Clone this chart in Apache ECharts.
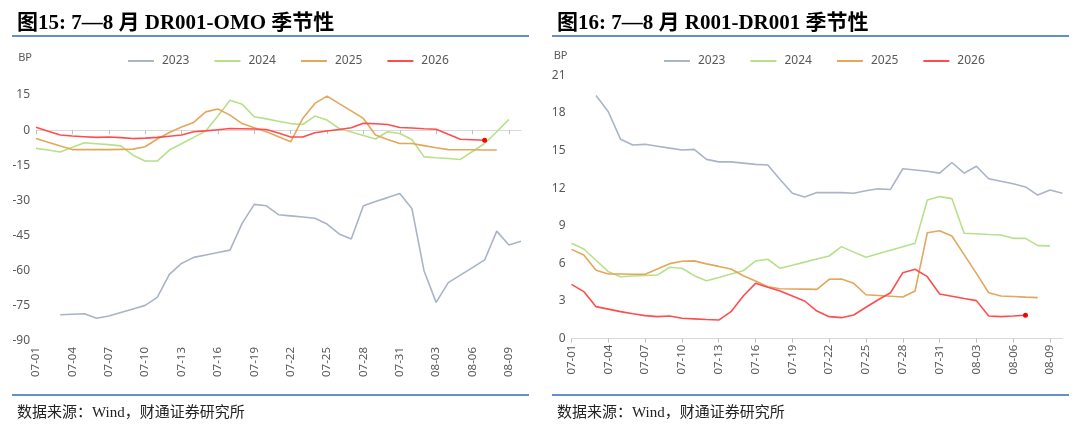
<!DOCTYPE html>
<html>
<head>
<meta charset="utf-8">
<script src="https://cdn.jsdelivr.net/npm/echarts@6/dist/echarts.min.js"></script>
<style>
  html, body { margin: 0; padding: 0; background: #fff; }
  #chart { width: 1080px; height: 430px; }
</style>
</head>
<body>
<div id="chart"></div>
<script>
// 日期：07-01 ~ 08-10
const dates = [
  '07-01','07-02','07-03','07-04','07-05','07-06','07-07','07-08','07-09','07-10',
  '07-11','07-12','07-13','07-14','07-15','07-16','07-17','07-18','07-19','07-20',
  '07-21','07-22','07-23','07-24','07-25','07-26','07-27','07-28','07-29','07-30',
  '07-31','08-01','08-02','08-03','08-04','08-05','08-06','08-07','08-08','08-09','08-10'
];
const years = ['2023', '2024', '2025', '2026'];
const colors = ['#A9B4C6', '#B7E08B', '#E3A75B', '#FF4D4D'];

// 图15 DR001-OMO (BP)
const omo2023 = [null, null, -78.8, -78.6, -78.4, -80.3, -79.3, -77.8, -76.3, -74.8,
  -71.4, -61.6, -56.9, -54.3, -53.3, -52.2, -51.2, -39.8, -31.7, -32.3,
  -36.1, -36.6, -37.1, -37.6, -40.1, -44.3, -46.5, -32.3, -30.5, -28.8,
  -27.0, -33.4, -60.0, -73.5, -65.1, -61.9, -58.7, -55.4, -43.1, -49.0, -47.4];
const omo2024 = [-7.8, -8.5, -9.3, -7.3, -5.4, -5.8, -6.2, -6.7, -10.7, -13.2,
  -13.2, -8.5, -5.8, -3.1, -0.4, 6.0, 12.8, 11.1, 5.7, 4.8,
  3.8, 2.8, 2.4, 6.0, 4.3, 0.7, -0.8, -2.3, -3.8, -0.7,
  -1.4, -4.0, -11.4, -11.8, -12.1, -12.5, -9.1, -5.7, -0.7, 4.6];
const omo2025 = [-3.6, -5.2, -6.8, -8.3, -8.3, -8.3, -8.3, -8.2, -8.1, -7.1,
  -3.8, -1.0, 1.3, 3.3, 7.8, 9.0, 6.4, 2.8, 1.0, -0.7,
  -2.8, -5.0, 5.0, 11.4, 14.5, 11.3, 8.2, 5.0, -2.1, -4.0,
  -5.7, -5.7, -6.6, -7.5, -8.3, -8.4, -8.4, -8.5, -8.5];
const omo2026 = [1.2, -0.5, -2.1, -2.5, -2.8, -3.1, -2.9, -3.2, -3.6, -3.4,
  -3.1, -2.6, -2.1, -0.7, -0.3, 0.2, 0.7, 0.6, 0.5, 0.3,
  -1.2, -2.9, -2.9, -1.1, -0.4, 0.3, 1.0, 2.9, 2.7, 2.4,
  1.1, 0.9, 0.6, 0.4, -1.8, -3.9, -4.1, -4.3];

// 图16 R001-DR001 (BP)
const spr2023 = [null, null, 19.4, 18.1, 15.9, 15.45, 15.5, 15.35, 15.2, 15.05,
  15.1, 14.3, 14.1, 14.1, 14.0, 13.9, 13.85, 12.7, 11.6, 11.3,
  11.65, 11.65, 11.65, 11.6, 11.8, 11.95, 11.9, 13.55, 13.45, 13.35,
  13.2, 14.05, 13.2, 13.75, 12.75, 12.55, 12.35, 12.1, 11.45, 11.85, 11.6];
const spr2024 = [7.6, 7.15, 6.25, 5.34, 4.94, 5.0, 5.03, 5.07, 5.69, 5.61,
  5.02, 4.62, 4.88, 5.15, 5.42, 6.19, 6.33, 5.61, 5.85, 6.1,
  6.35, 6.59, 7.34, 6.9, 6.49, 6.77, 7.05, 7.33, 7.6, 11.06,
  11.33, 11.17, 8.4, 8.36, 8.31, 8.27, 8.0, 8.0, 7.42, 7.4];
const spr2025 = [7.12, 6.67, 5.45, 5.16, 5.15, 5.14, 5.13, 5.55, 5.98, 6.17,
  6.2, 5.96, 5.76, 5.55, 5.02, 4.6, 4.14, 3.98, 3.96, 3.95,
  3.93, 4.73, 4.76, 4.41, 3.5, 3.44, 3.38, 3.32, 3.8, 8.45,
  8.61, 8.19, 6.7, 5.2, 3.66, 3.4, 3.36, 3.31, 3.27];
const spr2026 = [4.33, 3.75, 2.55, 2.35, 2.15, 1.98, 1.83, 1.75, 1.8, 1.62,
  1.57, 1.52, 1.48, 2.15, 3.4, 4.41, 4.1, 3.8, 3.4, 3.0,
  2.2, 1.75, 1.67, 1.88, 2.5, 3.1, 3.66, 5.26, 5.53, 4.94,
  3.56, 3.38, 3.2, 3.03, 1.8, 1.75, 1.8, 1.86];

const omoTicks = { min: -90, max: 15, interval: 15 };
const sprTicks = { min: 0, max: 21, interval: 3 };

const titleFont = '"Liberation Serif", "Noto Sans CJK SC", serif';
const labelFont = '"Noto Sans", "Noto Sans CJK SC", sans-serif';
const footFont = '"Liberation Serif", "Noto Sans CJK SC", serif';
const blue = '#2F6DB5';

const chart = echarts.init(document.getElementById('chart'), null, { renderer: 'canvas' });

// 最后一个点加红点
function withEndDot(arr) {
  return arr.map((v, i) => i === arr.length - 1
    ? { value: v, symbol: 'circle', symbolSize: 5, itemStyle: { color: '#FF0000' } }
    : v);
}

function makeSeries(gridIdx, list) {
  return list.map((data, k) => ({
    name: years[k],
    type: 'line',
    xAxisIndex: gridIdx,
    yAxisIndex: gridIdx,
    data: k === 3 ? withEndDot(data) : data,
    symbol: 'none',
    showSymbol: k === 3,
    connectNulls: true,
    z: 2 + k,
    lineStyle: { width: 1.6, color: colors[k] },
    itemStyle: { color: colors[k] },
    emphasis: { disabled: true }
  }));
}

function xAxisOf(gridIdx) {
  return {
    type: 'category',
    gridIndex: gridIdx,
    data: dates,
    boundaryGap: false,
    axisLine: { lineStyle: { color: '#D9D9D9' } },
    axisTick: { interval: 2, length: 4, lineStyle: { color: '#BFBFBF' } },
    axisLabel: { interval: 2, rotate: 90, fontSize: 11.5, color: '#595959', fontFamily: labelFont, margin: 6 },
    splitLine: { show: false }
  };
}

function yAxisOf(gridIdx, ticks, gap) {
  return {
    type: 'value',
    gridIndex: gridIdx,
    min: ticks.min,
    max: ticks.max,
    interval: ticks.interval,
    name: 'BP',
    nameGap: gap,
    nameTextStyle: { color: '#595959', fontSize: 11, fontFamily: labelFont, align: 'right', padding: [0, 4, 0, 0] },
    axisLine: { show: false },
    axisTick: { show: false },
    splitLine: { show: false },
    axisLabel: { fontSize: 12, color: '#595959', fontFamily: labelFont, margin: 6 }
  };
}

function legendOf(left, top) {
  return {
    left: left,
    top: top,
    icon: 'rect',
    itemWidth: 26,
    itemHeight: 2,
    itemGap: 25,
    data: years,
    textStyle: { color: '#595959', fontSize: 12, fontFamily: labelFont, padding: [0, 0, 0, 3] }
  };
}

const option = {
  animation: false,
  backgroundColor: '#fff',
  title: [
    { text: '图15: 7—8 月 DR001-OMO 季节性', left: 12, top: 8,
      textStyle: { fontSize: 21, fontWeight: 'bold', color: '#000', fontFamily: titleFont } },
    { text: '图16: 7—8 月 R001-DR001 季节性', left: 552, top: 8,
      textStyle: { fontSize: 21, fontWeight: 'bold', color: '#000', fontFamily: titleFont } },
    { text: '数据来源：Wind，财通证券研究所', left: 12, top: 401,
      textStyle: { fontSize: 15, fontWeight: 'normal', color: '#222', fontFamily: footFont } },
    { text: '数据来源：Wind，财通证券研究所', left: 552, top: 401,
      textStyle: { fontSize: 15, fontWeight: 'normal', color: '#222', fontFamily: footFont } }
  ],
  graphic: [
    { type: 'line', shape: { x1: 12, y1: 36, x2: 529, y2: 36 }, style: { stroke: blue, lineWidth: 1.5 } },
    { type: 'line', shape: { x1: 552, y1: 36, x2: 1069, y2: 36 }, style: { stroke: blue, lineWidth: 1.5 } },
    { type: 'line', shape: { x1: 12, y1: 395, x2: 529, y2: 395 }, style: { stroke: blue, lineWidth: 1.5 } },
    { type: 'line', shape: { x1: 552, y1: 395, x2: 1069, y2: 395 }, style: { stroke: blue, lineWidth: 1.5 } }
  ],
  legend: [legendOf(123, 50), legendOf(659, 50)],
  grid: [
    { left: 36, right: 559, top: 95, bottom: 89 },
    { left: 571.5, right: 17.7, top: 75.4, bottom: 91.4 }
  ],
  xAxis: [xAxisOf(0), xAxisOf(1)],
  yAxis: [yAxisOf(0, omoTicks, 32), yAxisOf(1, sprTicks, 14)],
  series: [
    ...makeSeries(0, [omo2023, omo2024, omo2025, omo2026]),
    ...makeSeries(1, [spr2023, spr2024, spr2025, spr2026])
  ]
};

chart.setOption(option);
</script>
</body>
</html>
